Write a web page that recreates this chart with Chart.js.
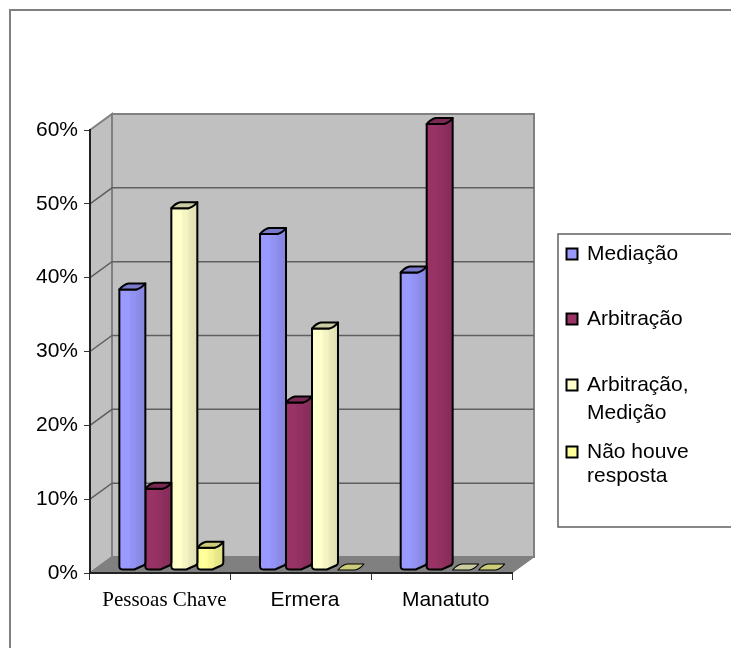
<!DOCTYPE html>
<html>
<head>
<meta charset="utf-8">
<script src="https://cdn.jsdelivr.net/npm/chart.js@4"></script>
<style>
  html, body { margin: 0; padding: 0; background: #fff; overflow: hidden; }
  canvas { display: block; }
</style>
</head>
<body>
<canvas id="chart" width="731" height="648"></canvas>
<script>
var categories = ["Pessoas Chave", "Ermera", "Manatuto"];
var seriesNames = ["Mediação", "Arbitração", "Arbitração, Medição", "Não houve resposta"];
var mediacao = [38, 45.5, 40.3];
var arbitracao = [11, 22.7, 60.4];
var arbitracaoMedicao = [49, 32.7, 0];
var naoHouveResposta = [3, 0, 0];
var seriesValues = [mediacao, arbitracao, arbitracaoMedicao, naoHouveResposta];
var seriesColors = ["#9999ff", "#993366", "#ffffcc", "#ffff99"];
var yTicks = [0, 10, 20, 30, 40, 50, 60];

// how the legend wraps its entries, and where each entry sits
var legendLines = [["Mediação"], ["Arbitração"], ["Arbitração,", "Medição"], ["Não houve", "resposta"]];
var legendRows = [254, 319, 385, 452];
var legendLineGaps = [0, 0, 28, 24];

// 3d look of the old excel chart
var wallDx = 22, wallDy = -16;
var barDx = 11, barDy = -3;
var sideW = 9, sideH = 6;

function shade(hex, f) {
  var n = parseInt(hex.slice(1), 16);
  var r = Math.round((n >> 16 & 255) * f);
  var g = Math.round((n >> 8 & 255) * f);
  var b = Math.round((n & 255) * f);
  return "rgb(" + r + "," + g + "," + b + ")";
}

function poly(ctx, pts, fill, stroke, lw) {
  ctx.beginPath();
  pts.forEach(function (p, i) {
    if (i == 0) ctx.moveTo(p[0], p[1]); else ctx.lineTo(p[0], p[1]);
  });
  ctx.closePath();
  if (fill) { ctx.fillStyle = fill; ctx.fill(); }
  if (stroke) { ctx.strokeStyle = stroke; ctx.lineWidth = lw; ctx.stroke(); }
}

var wallsPlugin = {
  id: "walls",
  beforeDraw: function (chart) {
    var ctx = chart.ctx, a = chart.chartArea, y = chart.scales.y;
    ctx.save();
    // outer frame, cut by the window on right and bottom
    ctx.strokeStyle = "#808080";
    ctx.lineWidth = 2;
    ctx.beginPath();
    ctx.moveTo(10, 648);
    ctx.lineTo(10, 10);
    ctx.lineTo(731, 10);
    ctx.stroke();

    var l = a.left, r = a.right, t = a.top, b = a.bottom;
    poly(ctx, [[l, t], [l + wallDx, t + wallDy], [l + wallDx, b + wallDy], [l, b]], "#c0c0c0", "#808080", 2);
    poly(ctx, [[l + wallDx, t + wallDy], [r + wallDx, t + wallDy], [r + wallDx, b + wallDy], [l + wallDx, b + wallDy]], "#c0c0c0", "#808080", 2);
    poly(ctx, [[l, b], [l + wallDx, b + wallDy], [r + wallDx, b + wallDy], [r, b]], "#808080", "#808080", 1);

    yTicks.forEach(function (v) {
      if (v == 0) return;
      var py = y.getPixelForValue(v);
      if (v == 60) return;
      ctx.strokeStyle = "#5f5f5f";
      ctx.lineWidth = 1.5;
      ctx.beginPath();
      ctx.moveTo(l, py);
      ctx.lineTo(l + wallDx, py + wallDy);
      ctx.lineTo(r + wallDx, py + wallDy);
      ctx.stroke();
    });
    ctx.restore();
  },
  afterDraw: function (chart) {
    var ctx = chart.ctx;
    ctx.save();
    ctx.fillStyle = "#fff";
    ctx.strokeStyle = "#606060";
    ctx.lineWidth = 1.5;
    ctx.beginPath();
    ctx.moveTo(733, 234);
    ctx.lineTo(558, 234);
    ctx.lineTo(558, 527);
    ctx.lineTo(733, 527);
    ctx.closePath();
    ctx.fill();
    ctx.stroke();

    ctx.font = "21px 'Liberation Sans'";
    ctx.textBaseline = "middle";
    legendRows.forEach(function (row, i) {
      ctx.fillStyle = seriesColors[i];
      ctx.strokeStyle = "#000";
      ctx.lineWidth = 2;
      ctx.fillRect(566.5, row - 5.5, 11, 11);
      ctx.strokeRect(566.5, row - 5.5, 11, 11);
      ctx.fillStyle = "#000";
      legendLines[i].forEach(function (txt, j) {
        ctx.fillText(txt, 587, row + j * legendLineGaps[i]);
      });
    });
    ctx.restore();
  }
};

function drawColumn(ctx, el, color) {
  var x0 = el.x - el.width / 2 + barDx;
  var faceW = el.width - sideW;
  var yTop = el.y + barDy;
  var yBase = el.base + barDy;
  var x1 = x0 + faceW, x2 = x0 + el.width;

  ctx.save();
  ctx.lineJoin = "round";
  if (yBase - yTop > 0.5) {
    var grad = ctx.createLinearGradient(x0, 0, x2, 0);
    grad.addColorStop(0, color);
    grad.addColorStop(0.38, shade(color, 1));
    grad.addColorStop(0.42, shade(color, 0.97));
    grad.addColorStop(0.62, shade(color, 0.95));
    grad.addColorStop(0.66, shade(color, 0.92));
    grad.addColorStop(1, shade(color, 0.87));
    ctx.beginPath();
    ctx.moveTo(x0, yTop);
    ctx.lineTo(x0, yBase - 3);
    ctx.quadraticCurveTo(x0, yBase, x0 + 4, yBase);
    ctx.lineTo(x1 - 2, yBase);
    ctx.lineTo(x2 - 2, yBase - sideH + 2);
    ctx.quadraticCurveTo(x2, yBase - sideH + 1, x2, yBase - sideH - 1);
    ctx.lineTo(x2, yTop - sideH);
    ctx.lineTo(x1, yTop);
    ctx.closePath();
    ctx.fillStyle = grad;
    ctx.fill();
    ctx.strokeStyle = "#000";
    ctx.lineWidth = 2;
    ctx.stroke();
  }
  // lid, also the flat mark of a zero value
  var flat = yBase - yTop <= 0.5;
  ctx.beginPath();
  ctx.moveTo(x0, yTop);
  ctx.quadraticCurveTo(x0 + 4, yTop - sideH + 1, x0 + sideW, yTop - sideH);
  ctx.lineTo(x2, yTop - sideH);
  ctx.quadraticCurveTo(x2 - 4, yTop - 1, x1, yTop);
  ctx.closePath();
  ctx.fillStyle = shade(color, 0.8);
  ctx.fill();
  ctx.strokeStyle = "#000";
  ctx.lineWidth = flat ? 1.2 : 2;
  ctx.stroke();
  ctx.restore();
}

var columnsPlugin = {
  id: "columns",
  beforeDatasetDraw: function (chart, args) {
    args.meta.data.forEach(function (el) {
      drawColumn(chart.ctx, el, el.options.backgroundColor);
    });
    return false;
  }
};

var datasets = [];
seriesNames.forEach(function (name, i) {
  datasets.push({
    label: name,
    data: seriesValues[i],
    backgroundColor: seriesColors[i],
    categoryPercentage: 0.739,
    barPercentage: 1
  });
});

new Chart("chart", {
  type: "bar",
  data: { labels: categories, datasets: datasets },
  plugins: [wallsPlugin, columnsPlugin],
  options: {
    responsive: false,
    animation: false,
    layout: { padding: { left: 0, top: 130, right: 219, bottom: 0 } },
    plugins: { legend: { display: false }, tooltip: { enabled: false }, title: { display: false } },
    scales: {
      x: {
        afterFit: function (scale) { scale.height = 75; },
        border: { color: "#222", width: 2 },
        grid: { drawOnChartArea: false, color: "#333", tickLength: 7, offset: true },
        ticks: {
          color: "#000",
          padding: 8,
          labelOffset: 4,
          maxRotation: 0,
          font: function (c) {
            // first label is in times in the reference
            return c.index == 0
              ? { family: "'Liberation Serif'", size: 21 }
              : { family: "'Liberation Sans'", size: 21 };
          }
        }
      },
      y: {
        min: 0,
        max: 60,
        afterFit: function (scale) { scale.width = 90; },
        border: { color: "#222", width: 2 },
        grid: { drawOnChartArea: false, color: "#333", tickLength: 6 },
        ticks: {
          stepSize: 10,
          padding: 6,
          color: "#000",
          font: { family: "'Liberation Sans'", size: 21 },
          callback: function (v) { return v + "%"; }
        }
      }
    }
  }
});
</script>
</body>
</html>
